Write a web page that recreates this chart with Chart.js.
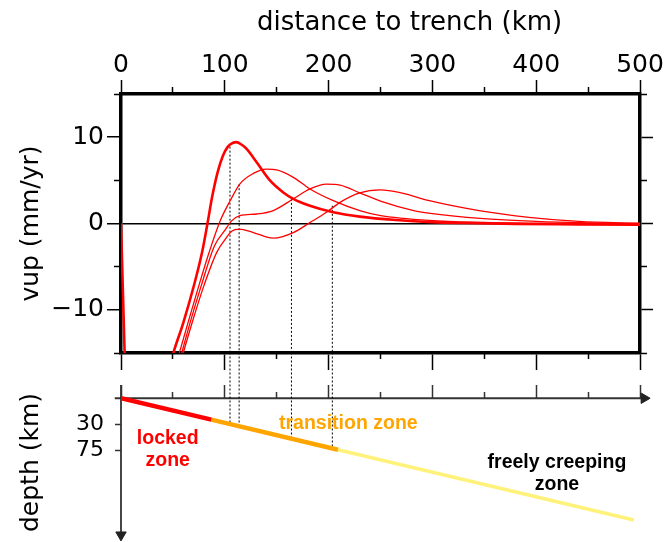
<!DOCTYPE html>
<html>
<head>
<meta charset="utf-8">
<title>vup profile</title>
<script src="https://cdn.jsdelivr.net/npm/chart.js"></script>
<style>
    html, body { margin: 0; padding: 0; background: #ffffff; }
    .figure { position: relative; width: 664px; height: 542px; }
    .figure canvas { position: absolute; left: 0; top: 0; }
</style>
</head>
<body>
<div class="figure">
    <canvas id="line_chart_vup" width="664" height="542"></canvas>
    <canvas id="line_chart_depth" width="664" height="542"></canvas>
</div>
<script>
var distanceMajorTicks = [0, 100, 200, 300, 400, 500];
var distanceMinorTicks = [50, 150, 250, 350, 450];
var vupMajorTicks = [-10, 0, 10];
var vupMinorTicks = [-15, -5, 5, 15];
var depthTicks = [30, 75];

// thick curve (goes off the bottom between ~4 and ~50 km)
var kmA  = [0, 2, 3.6, 4.2, 46, 48, 50.4, 60, 70, 78, 83.3, 88, 93, 98, 103, 108, 111, 116, 121, 130.7, 143.5, 156.4, 166, 182, 204.5, 230, 265, 300, 330, 380, 440, 500];
var vupA = [0, -8.6, -15.5, -18, -18, -16.1, -15, -11.5, -7.3, -3.4, 0, 3.2, 5.9, 7.8, 8.9, 9.35, 9.42, 9.15, 8.65, 7.1, 5.0, 3.6, 2.85, 2.05, 1.3, 0.8, 0.4, 0.15, 0.05, -0.05, -0.1, -0.15];

var kmB  = [53, 56.2, 65, 74.5, 85, 95.5, 105, 114.6, 127.5, 140.4, 150, 166, 182, 204.5, 230, 249, 297, 350, 400, 450, 500];
var vupB = [-16.4, -15, -11.3, -7.4, -3.3, 0.3, 2.6, 4.6, 5.8, 6.3, 6.2, 5.35, 4.0, 2.65, 1.5, 0.95, 0.35, 0.12, 0.04, 0.01, 0];

var kmC  = [55.5, 58.5, 67, 76.8, 90, 100, 106.6, 114.6, 130.7, 146.7, 166, 182, 198, 211, 230, 250, 282, 300, 346, 400, 450, 500];
var vupC = [-16.3, -15, -11.3, -7.4, -2.6, -0.8, 0.3, 0.9, 1.1, 1.5, 2.85, 4.0, 4.55, 4.45, 3.55, 2.6, 1.5, 1.15, 0.6, 0.25, 0.08, 0];

var kmD  = [57, 60, 69, 79.3, 92, 100, 106.6, 114, 127.5, 146.7, 166, 182, 198, 211, 230, 250, 270, 297, 345, 393, 441, 500];
var vupD = [-16.3, -15, -11.3, -7.4, -3.4, -1.9, -0.9, -0.65, -1.05, -1.7, -1.05, 0.1, 1.3, 2.45, 3.55, 3.9, 3.55, 2.65, 1.5, 0.72, 0.25, 0.02];

// dotted guide lines: from the curve down to the slab
var markerKm = [105, 113.8, 164.2, 203.6];
var markerVup = [8.9, 4.55, 2.85, 2.05];
var markerSlabDepth = [29, 28, 52.5, 67.5];

// schematic slab (depth axis of the lower panel)
var slabKm = [0, 87, 209, 494];
var slabDepth = [-14, 22.5, 73.8, 193.5];
var slabColors = ['#ff0000', '#ffa500', '#fff27a'];
var zoneNames = [['locked', 'zone'], ['transition zone'], ['freely creeping', 'zone']];
var distanceTitle = 'distance to trench (km)';

document.addEventListener("DOMContentLoaded", function() {
    var sans = "'DejaVu Sans', sans-serif";
    var vupMin = -15, vupMax = 15;
    var depthMin = -40, depthMax = 231;
    var surfaceDepth = slabDepth[0];

    function toPoints(xs, ys) {
        return xs.map(function(x, i) { return {x: x, y: ys[i]}; });
    }

    // pin the axis box size and drop the label overhang padding
    function fixedSize(px) {
        return function(scale) {
            if (scale.isHorizontal()) {
                scale.height = px;
            } else {
                scale.width = px;
            }
            scale.paddingTop = 0;
            scale.paddingBottom = 0;
            scale.paddingLeft = 0;
            scale.paddingRight = 0;
        };
    }

    function fixedTicks(values) {
        return function(scale) {
            scale.ticks = values.map(function(v) { return {value: v}; });
        };
    }

    function minusLabel(value) {
        return value < 0 ? '\u2212' + Math.abs(value) : String(value);
    }

    // a bare axis that only draws tick marks
    function tickAxis(position, min, max, values, size, length, weight) {
        return {
            type: 'linear', position: position, min: min, max: max, weight: weight,
            afterBuildTicks: fixedTicks(values),
            afterFit: fixedSize(size),
            ticks: {display: false},
            grid: {drawOnChartArea: false, tickLength: length, tickWidth: 1.5, tickColor: '#000'},
            border: {display: weight > 0, width: 3.5, color: '#000'}
        };
    }

    var curveStyle = {borderColor: '#ff0000', pointRadius: 0, fill: false, cubicInterpolationMode: 'monotone'};

    var vupDatasets = [
        Object.assign({data: toPoints(kmA, vupA), borderWidth: 2.6}, curveStyle),
        Object.assign({data: toPoints(kmB, vupB), borderWidth: 1.3}, curveStyle),
        Object.assign({data: toPoints(kmC, vupC), borderWidth: 1.3}, curveStyle),
        Object.assign({data: toPoints(kmD, vupD), borderWidth: 1.3}, curveStyle)
    ];
    markerKm.forEach(function(km, i) {
        vupDatasets.push({
            data: [{x: km, y: markerVup[i]}, {x: km, y: vupMin}],
            borderColor: '#000', borderWidth: 1, borderDash: [2, 2], pointRadius: 0
        });
    });

    var xTop = tickAxis('top', 0, 500, distanceMajorTicks, 94, 14, 1);
    xTop.ticks = {display: true, color: '#000', font: {family: sans, size: 25}, padding: 0, maxRotation: 0, autoSkip: false};

    var yLeft = tickAxis('left', vupMin, vupMax, vupMajorTicks, 121, 14, 1);
    yLeft.ticks = {display: true, color: '#000', font: {family: sans, size: 25}, padding: 3, callback: minusLabel};
    yLeft.grid = {
        drawOnChartArea: true, lineWidth: 1.5, tickLength: 14, tickWidth: 1.5, tickColor: '#000',
        color: function(c) { return c.tick && c.tick.value === 0 ? '#000' : 'rgba(0,0,0,0)'; }
    };
    yLeft.title = {display: true, text: 'vup (mm/yr)', color: '#000', font: {family: sans, size: 25}, padding: {top: 16}};

    // the distance title sits a little right of the axis centre in the original
    var distanceTitlePlugin = {
        id: 'distanceTitle',
        afterDraw: function(chart) {
            var ctx = chart.ctx;
            var xs = chart.scales.x;
            ctx.save();
            ctx.font = '26px ' + sans;
            ctx.fillStyle = '#000';
            ctx.textAlign = 'center';
            ctx.textBaseline = 'middle';
            ctx.fillText(distanceTitle, xs.getPixelForValue(278), xs.top + 23);
            ctx.restore();
        }
    };

    new Chart(document.getElementById('line_chart_vup').getContext('2d'), {
        type: 'line',
        data: {datasets: vupDatasets},
        options: {
            responsive: false,
            animation: false,
            layout: {padding: 0, autoPadding: false},
            plugins: {legend: {display: false}, tooltip: {enabled: false}},
            scales: {
                x: xTop,
                xTopMinor: tickAxis('top', 0, 500, distanceMinorTicks, 0, 7, 0),
                xBottom: tickAxis('bottom', 0, 500, distanceMajorTicks, 189, 17, 1),
                xBottomMinor: tickAxis('bottom', 0, 500, distanceMinorTicks, 0, 6, 0),
                y: yLeft,
                yLeftMinor: tickAxis('left', vupMin, vupMax, vupMinorTicks, 0, 7, 0),
                yRight: tickAxis('right', vupMin, vupMax, vupMajorTicks, 24, 13, 1),
                yRightMinor: tickAxis('right', vupMin, vupMax, vupMinorTicks, 0, 7, 0)
            }
        },
        plugins: [distanceTitlePlugin]
    });

    // lower panel
    var depthDatasets = [];
    for (var i = 0; i < slabColors.length; i++) {
        depthDatasets.push({
            data: [{x: slabKm[i], y: slabDepth[i]}, {x: slabKm[i + 1], y: slabDepth[i + 1]}],
            borderColor: slabColors[i], borderWidth: i === 2 ? 3.5 : 4.5, borderCapStyle: 'butt',
            pointRadius: 0, yAxisID: 'yd'
        });
    }
    markerKm.forEach(function(km, i) {
        depthDatasets.push({
            data: [{x: km, y: -92}, {x: km, y: markerSlabDepth[i]}],
            borderColor: '#000', borderWidth: 1, borderDash: [2, 2], pointRadius: 0,
            clip: false, yAxisID: 'yd'
        });
    });
    var arrowStyle = {
        borderColor: '#333', borderWidth: 1.8, pointStyle: 'triangle',
        pointBackgroundColor: '#222', pointBorderColor: '#222', pointBorderWidth: 1,
        pointRadius: function(c) { return c.dataIndex === 1 ? 6 : 0; },
        clip: false, yAxisID: 'yd'
    };
    depthDatasets.push(Object.assign({
        data: [{x: -6, y: surfaceDepth}, {x: 504, y: surfaceDepth}], pointRotation: 90
    }, arrowStyle));
    depthDatasets.push(Object.assign({
        data: [{x: 0, y: -36.5}, {x: 0, y: 219}], pointRotation: 180
    }, arrowStyle));

    var zoneNotes = [
        {lines: zoneNames[0], km: 45, depth: 64, color: '#ff0000'},
        {lines: zoneNames[1], km: 219, depth: 38.4, color: '#ffa500'},
        {lines: zoneNames[2], km: 420, depth: 105, color: '#000000'}
    ];

    var zoneLabelPlugin = {
        id: 'zoneLabels',
        afterDatasetsDraw: function(chart) {
            var ctx = chart.ctx;
            var xs = chart.scales.x;
            var ys = chart.scales.yd;
            ctx.save();
            ctx.textAlign = 'center';
            ctx.textBaseline = 'alphabetic';
            ctx.font = "bold 19.5px 'Liberation Sans', Arial, sans-serif";
            zoneNotes.forEach(function(note) {
                var px = xs.getPixelForValue(note.km);
                var py = ys.getPixelForValue(note.depth);
                ctx.fillStyle = note.color;
                note.lines.forEach(function(line, k) {
                    ctx.fillText(line, px, py + k * 22);
                });
            });
            ctx.restore();
        }
    };

    function surfaceTicks(values, length) {
        return {
            type: 'linear', axis: 'x', position: {yd: surfaceDepth}, min: 0, max: 500,
            afterBuildTicks: fixedTicks(values),
            afterFit: fixedSize(0),
            ticks: {display: false},
            grid: {drawOnChartArea: false, tickLength: length, tickWidth: 1.5, tickColor: '#333'},
            border: {display: false}
        };
    }

    new Chart(document.getElementById('line_chart_depth').getContext('2d'), {
        type: 'line',
        data: {datasets: depthDatasets},
        options: {
            responsive: false,
            animation: false,
            layout: {padding: {top: 383, right: 24, bottom: 0, left: 0}, autoPadding: false},
            plugins: {legend: {display: false}, tooltip: {enabled: false}},
            scales: {
                x: surfaceTicks(distanceMajorTicks, -13),
                xm: surfaceTicks(distanceMinorTicks, -6),
                yd: {
                    type: 'linear', position: 'left', reverse: true, min: depthMin, max: depthMax,
                    afterBuildTicks: fixedTicks(depthTicks),
                    afterFit: fixedSize(121),
                    ticks: {color: '#000', font: {family: sans, size: 22}, padding: 11},
                    grid: {drawOnChartArea: false, tickLength: 6, tickWidth: 1.5, tickColor: '#333'},
                    border: {display: false},
                    title: {display: true, text: 'depth (km)', color: '#000', font: {family: sans, size: 25}, padding: {top: 16}}
                }
            }
        },
        plugins: [zoneLabelPlugin]
    });
});
</script>
</body>
</html>
